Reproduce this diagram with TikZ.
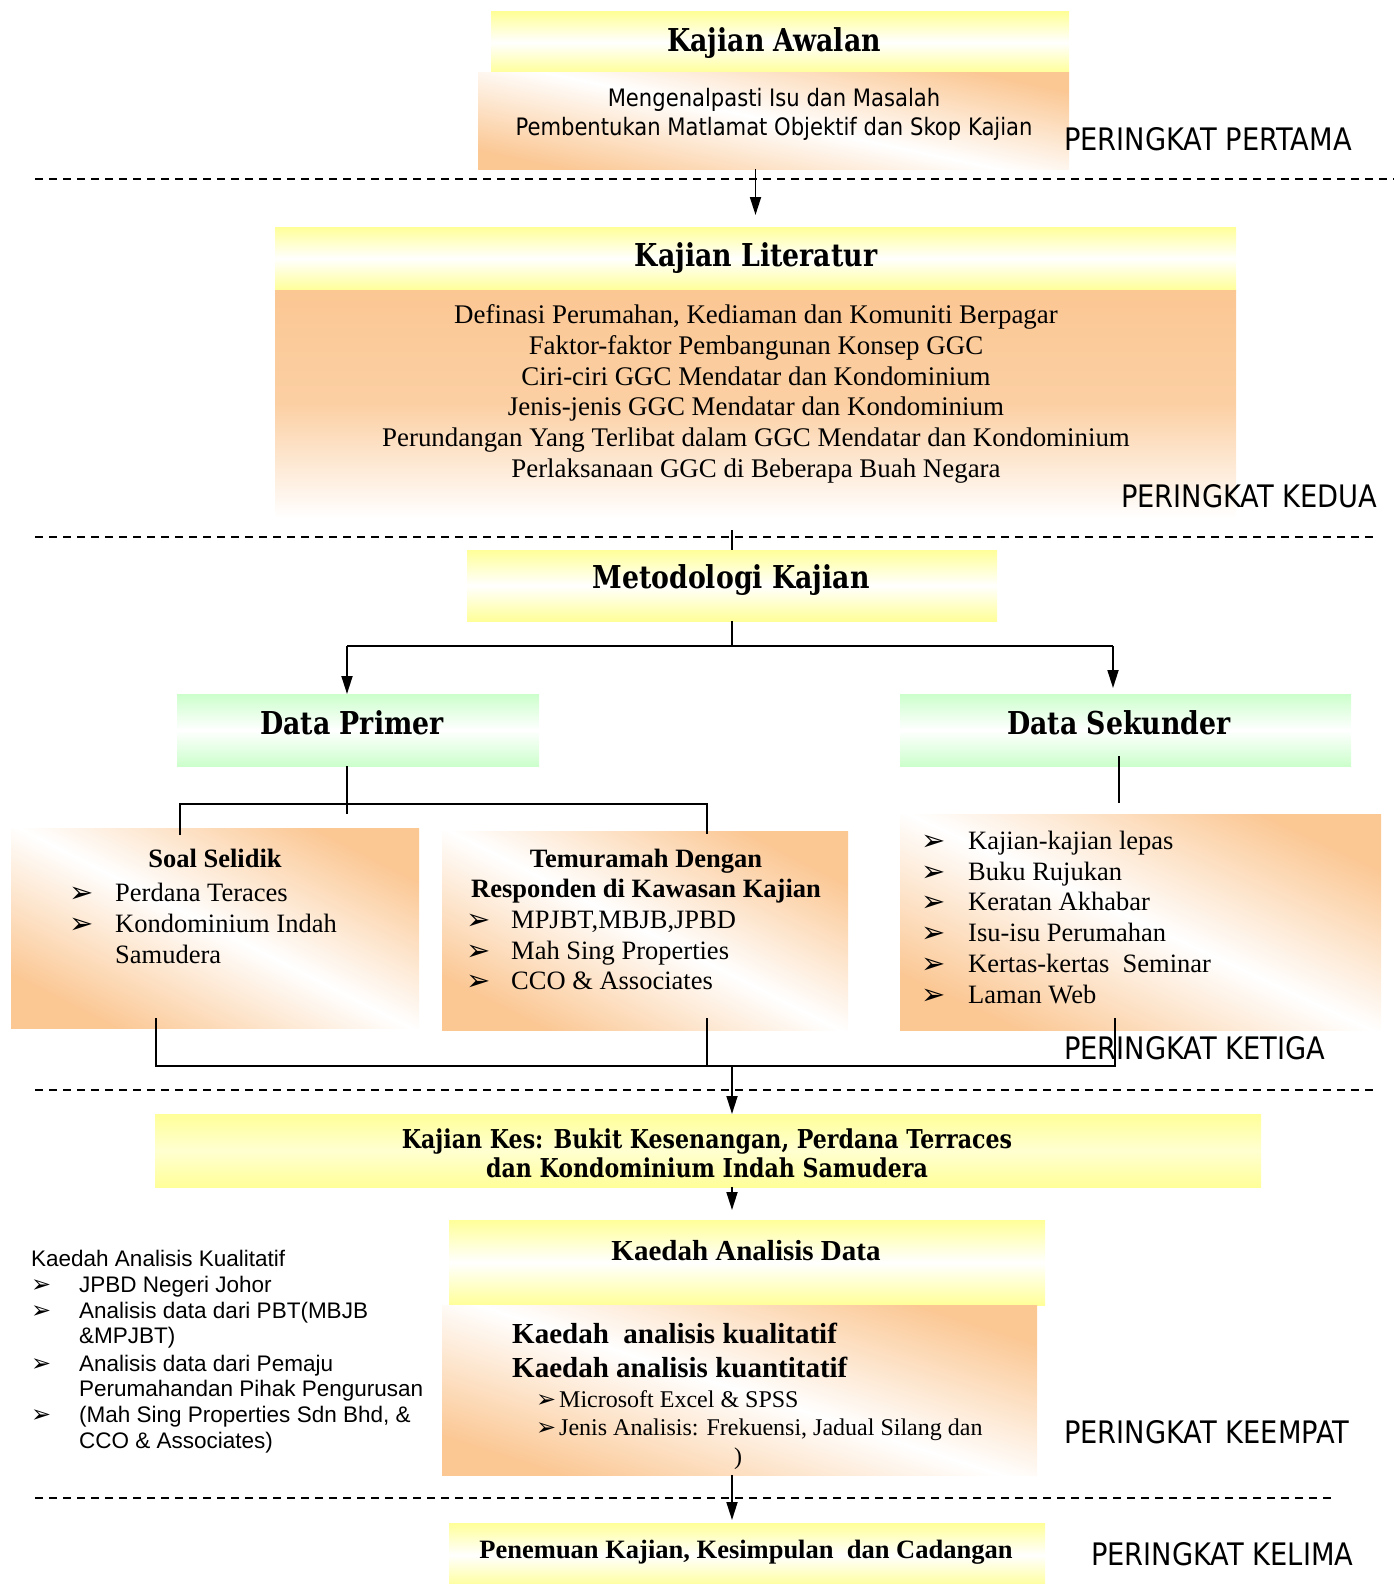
\documentclass[tikz,border=0pt]{standalone}
\usepackage{fontspec}
\setmainfont{Liberation Serif}
\newfontfamily\hdfont{DejaVu Serif}[FakeStretch=0.85]
\newfontfamily\tahfont{DejaVu Sans}[FakeStretch=0.88]
\newfontfamily\arialfont{Liberation Sans}
\newfontfamily\symfont{DejaVu Sans}
\usetikzlibrary{arrows.meta}
\definecolor{yel}{HTML}{FFFF99}
\definecolor{org}{HTML}{FBC793}
\definecolor{grn}{HTML}{CCFFCC}
\newcommand{\fss}[2]{\fontsize{#1}{#2}\selectfont}
\newcommand{\bul}[1]{\makebox[#1][l]{\symfont\fss{29}{29}\raisebox{-1pt}{➢}}}
\newcommand{\bula}[1]{\makebox[#1][l]{\symfont\fss{24}{24}➢}}
\begin{document}
\begin{tikzpicture}[x=1pt,y=-1pt,
  bx/.style={anchor=north west, inner sep=0pt, outer sep=0pt, draw=none},
  ybx/.style={bx, top color=yel, bottom color=yel, middle color=white},
  gbx/.style={bx, top color=grn, bottom color=grn, middle color=white},
  obx/.style={bx, top color=org, bottom color=org, middle color=white, shading angle=#1},
  hd/.style={inner sep=0pt, font=\hdfont\bfseries\fss{31.5}{35}},
  tb/.style={inner sep=0pt, font=\bfseries\fss{26.5}{30.5}},
  tx/.style={inner sep=0pt, anchor=west, font=\fss{26.5}{30.5}, text height=19pt, text depth=0.5pt},
  ax/.style={inner sep=0pt, anchor=west, font=\arialfont\fss{22.5}{26}, text height=16pt, text depth=0pt},
  lvl/.style={inner sep=0pt, anchor=west, font=\tahfont\fss{31}{35}},
  dl/.style={line width=2pt, dash pattern=on 8pt off 6pt},
  cn/.style={line width=1.8pt},
  ar/.style={cn, -{Triangle[length=18pt,width=11pt]}}
]
\useasboundingbox (0,0) rectangle (1394,1584);

% separators
\draw[dl] (35,179) -- (1394,179);
\draw[dl] (35,537) -- (1374,537);
\draw[dl] (35,1090) -- (1374,1090);
\draw[dl] (35,1498) -- (1333,1498);

% boxes
\node[ybx, minimum width=578pt, minimum height=61pt] (awH) at (491,12) {};
\node[obx=-12, minimum width=591pt, minimum height=96pt] (awB) at (478,73) {};
\node[ybx, minimum width=961pt, minimum height=63pt] (litH) at (275,227) {};
\node[bx, top color=org, bottom color=white, middle color=org!85!white, minimum width=961pt, minimum height=228pt] (litB) at (275,290) {};
\node[ybx, minimum width=530pt, minimum height=71pt] (meto) at (467,550) {};
\node[gbx, minimum width=362pt, minimum height=72pt] (pri) at (177,694) {};
\node[gbx, minimum width=451pt, minimum height=72pt] (sek) at (900,694) {};
\node[obx=-27, minimum width=408pt, minimum height=200pt] (soal) at (11,828) {};
\node[obx=-27, minimum width=406pt, minimum height=199pt] (tem) at (442,831) {};
\node[obx=-25, minimum width=481pt, minimum height=216pt] (sekL) at (900,814) {};
\node[bx, top color=yel, bottom color=yel, middle color=yel!45!white, minimum width=1106pt, minimum height=73pt] (kes) at (155,1114) {};
\node[ybx, minimum width=596pt, minimum height=85pt] (kadH) at (449,1220) {};
\node[obx=-18, minimum width=595pt, minimum height=170pt] (kadB) at (442,1305) {};
\node[ybx, minimum width=596pt, minimum height=64pt] (pen) at (449,1523) {};

% texts
\node[hd] (awT) at (774,43) {Kajian Awalan};
\node[inner sep=0pt, font=\tahfont\fss{24}{29}, align=center] (awX) at (774,114) {Mengenalpasti Isu dan Masalah\\Pembentukan Matlamat Objektif dan Skop Kajian};
\node[lvl] (lv1) at (1064,139) {PERINGKAT PERTAMA};

\node[hd] (litT) at (756,258) {Kajian Literatur};
\node[inner sep=0pt, font=\fss{26.9}{30.8}, align=center] (litX) at (756,394) {Definasi Perumahan, Kediaman dan Komuniti Berpagar\\Faktor-faktor Pembangunan Konsep GGC\\Ciri-ciri GGC Mendatar dan Kondominium\\Jenis-jenis GGC Mendatar dan Kondominium\\Perundangan Yang Terlibat dalam GGC Mendatar dan Kondominium\\Perlaksanaan GGC di Beberapa Buah Negara};
\node[lvl] (lv2) at (1121,496) {PERINGKAT KEDUA};

\node[hd] (metoT) at (731,580) {Metodologi Kajian};
\node[hd] (priT) at (352,723) {Data Primer};
\node[hd] (sekT) at (1119,723) {Data Sekunder};

\node[tb] (soalT) at (215,858) {Soal Selidik};
\node[tx] (soal1) at (69,892) {\bul{46pt}Perdana Teraces};
\node[tx] (soal2) at (69,923) {\bul{46pt}Kondominium Indah};
\node[tx] (soal3) at (115,954) {Samudera};

\node[tb, align=center] (temT) at (646,876) {Temuramah Dengan\\Responden di Kawasan Kajian};
\node[tx] (tem1) at (466,919) {\bul{45pt}MPJBT,MBJB,JPBD};
\node[tx] (tem2) at (466,950) {\bul{45pt}Mah Sing Properties};
\node[tx] (tem3) at (466,980) {\bul{45pt}CCO \& Associates};

\node[tx] (sek1) at (921,840) {\bul{47pt}Kajian-kajian lepas};
\node[tx] (sek2) at (921,871) {\bul{47pt}Buku Rujukan};
\node[tx] (sek3) at (921,901) {\bul{47pt}Keratan Akhabar};
\node[tx] (sek4) at (921,932) {\bul{47pt}Isu-isu Perumahan};
\node[tx] (sek5) at (921,963) {\bul{47pt}Kertas-kertas\ \ Seminar};
\node[tx] (sek6) at (921,994) {\bul{47pt}Laman Web};
\node[lvl] (lv3) at (1064,1048) {PERINGKAT KETIGA};

\node[hd, font=\hdfont\bfseries\fss{26}{29}, align=center] (kesT) at (707,1153) {Kajian Kes: Bukit Kesenangan, Perdana Terraces\\dan Kondominium Indah Samudera};

\node[tb, font=\bfseries\fss{29}{32}] (kadT) at (746,1251) {Kaedah Analisis Data};
\node[tx, font=\bfseries\fss{29}{32}] (kad1) at (512,1334) {Kaedah\ \ analisis kualitatif};
\node[tx, font=\bfseries\fss{29}{32}] (kad2) at (512,1368) {Kaedah analisis kuantitatif};
\node[tx, font=\fss{24}{28}] (kad3) at (536,1398) {\bula{23pt}Microsoft Excel \& SPSS};
\node[tx, font=\fss{24}{28}] (kad4) at (536,1426) {\bula{23pt}Jenis Analisis: Frekuensi, Jadual Silang dan};
\node[inner sep=0pt, font=\fss{24}{28}] (kad5) at (738,1459) {)};
\node[lvl] (lv4) at (1064,1432) {PERINGKAT KEEMPAT};

\node[ax] (lk0) at (31,1258) {Kaedah Analisis Kualitatif};
\node[ax] (lk1) at (31,1284) {\bula{48pt}JPBD Negeri Johor};
\node[ax] (lk2) at (31,1310) {\bula{48pt}Analisis data dari PBT(MBJB};
\node[ax] (lk3) at (79,1335) {\&MPJBT)};
\node[ax] (lk4) at (31,1363) {\bula{48pt}Analisis data dari Pemaju};
\node[ax] (lk5) at (79,1388) {Perumahandan Pihak Pengurusan};
\node[ax] (lk6) at (31,1414) {\bula{48pt}(Mah Sing Properties Sdn Bhd, \&};
\node[ax] (lk7) at (79,1440) {CCO \& Associates)};

\node[tb, font=\bfseries\fss{26.5}{30}] (penT) at (746,1552) {Penemuan Kajian, Kesimpulan\ \ dan Cadangan};
\node[lvl] (lv5) at (1091,1554) {PERINGKAT KELIMA};

% connectors
\draw[ar] (litH.north |- awB.south) -- ([yshift=12pt]litH.north);
\coordinate (mtop) at (732,530);
\draw[cn] (mtop) -- (meto.north);
\coordinate (mj) at (732,646);
\coordinate (mjl) at (347,646);
\coordinate (mjr) at (1113,646);
\draw[cn] (meto.south) -- (mj);
\draw[cn] (mjl) -- (mjr);
\draw[ar] (mjl) -- (mjl |- pri.north);
\draw[ar] (mjr) -- ([yshift=6pt]mjr |- sek.north);
\coordinate (pj) at (347,804);
\coordinate (pjl) at (180,804);
\coordinate (pjr) at (707,804);
\draw[cn] (pj |- pri.south) -- ([yshift=-10pt]pj);
\draw[cn] ([yshift=-7pt]pjl |- soal.north) -- (pjl) -- (pjr) -- ([yshift=-3pt]pjr |- tem.north);
\coordinate (sj) at (1119,803);
\draw[cn] ([yshift=10pt]sj |- sek.south) -- (sj);
\coordinate (bj) at (732,1066);
\coordinate (bjl) at (156,1066);
\coordinate (bjm) at (707,1066);
\coordinate (bjr) at (1115,1066);
\draw[cn] ([yshift=10pt]bjl |- soal.south) -- (bjl) -- (bjr) -- ([yshift=12pt]bjr |- sekL.south);
\draw[cn] ([yshift=12pt]bjm |- tem.south) -- (bjm);
\draw[ar] (bj) -- (bj |- kes.north);
\draw[ar] (bj |- kes.south) -- ([yshift=10pt]bj |- kadH.north);
\draw[ar] (bj |- kadB.south) -- ([yshift=3pt]bj |- pen.north);
\end{tikzpicture}
\end{document}
